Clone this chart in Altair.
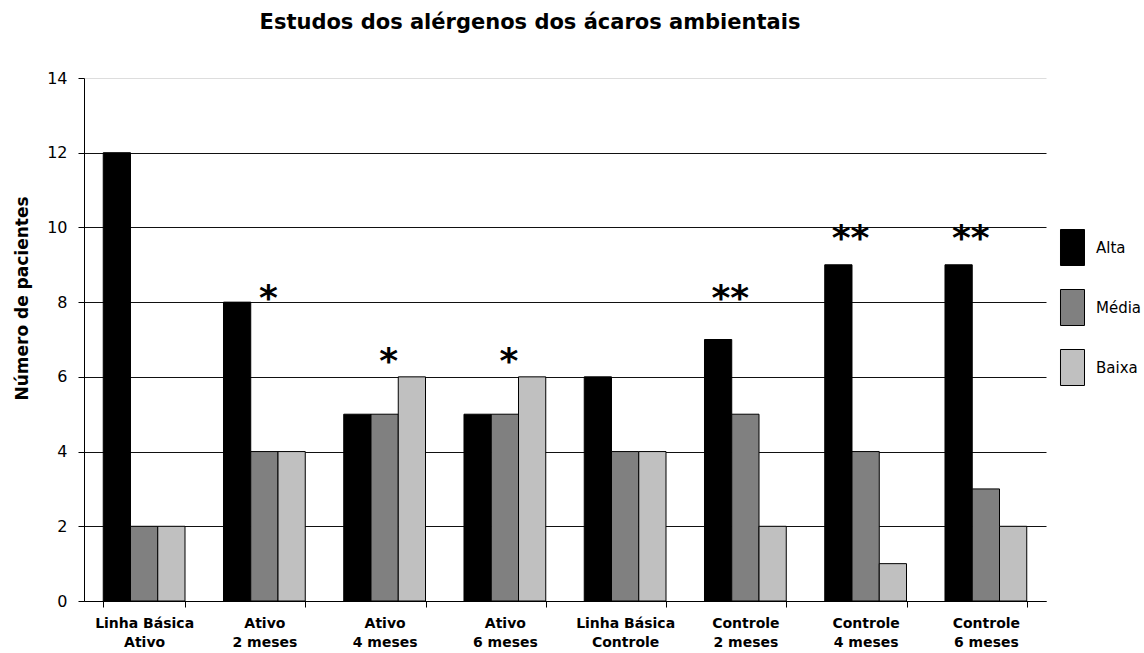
import altair as alt
import pandas as pd

# Study groups (two-line axis labels) and allergen sensitivity levels
categories = [
    "Linha Básica\nAtivo", "Ativo\n2 meses", "Ativo\n4 meses", "Ativo\n6 meses",
    "Linha Básica\nControle", "Controle\n2 meses", "Controle\n4 meses", "Controle\n6 meses",
]
levels = ["Alta", "Média", "Baixa"]

alta = [12, 8, 5, 5, 6, 7, 9, 9]
media = [2, 4, 5, 5, 4, 5, 4, 3]
baixa = [2, 4, 6, 6, 4, 2, 1, 2]

# Significance markers and the height (in patients) at which each is written
stars = ["", "*", "*", "*", "", "**", "**", "**"]
star_level = [None, 8.3, 6.6, 6.6, None, 8.3, 9.9, 9.9]

colors = ["#000000", "#808080", "#c0c0c0"]
y_ticks = [0, 2, 4, 6, 8, 10, 12, 14]

rows = []
for i, cat in enumerate(categories):
    for lvl, vals in zip(levels, [alta, media, baixa]):
        rows.append({"categoria": cat, "nivel": lvl, "pacientes": vals[i]})
df = pd.DataFrame(rows)

star_df = pd.DataFrame(
    [{"categoria": c, "marca": s, "pacientes": l}
     for c, s, l in zip(categories, stars, star_level) if s]
)

x_enc = alt.X(
    "categoria:N",
    sort=categories,
    scale=alt.Scale(paddingInner=0.32, paddingOuter=0.16),
    axis=alt.Axis(
        title=None,
        labelExpr="split(datum.label, '\\n')",
        labelAngle=0,
        labelFont="DejaVu Sans",
        labelFontWeight="bold",
        labelFontSize=14,
        labelLineHeight=19,
        labelColor="black",
        labelPadding=9,
        labelLimit=0,
        tickBand="extent",
        tickSize=6,
        tickColor="black",
        domainColor="black",
        grid=False,
    ),
)

y_enc = alt.Y(
    "pacientes:Q",
    scale=alt.Scale(domain=[0, 14], nice=False),
    axis=alt.Axis(
        values=y_ticks,
        title="Número de pacientes",
        titleFont="DejaVu Sans",
        titleFontSize=17,
        titleFontWeight="bold",
        titleColor="black",
        titleAngle=270,
        titleX=-62,
        titleY=220,
        titleAlign="center",
        titleBaseline="middle",
        labelFont="DejaVu Sans",
        labelFontSize=16,
        labelColor="black",
        labelPadding=11,
        tickSize=6,
        tickColor="black",
        domainColor="black",
        grid=True,
        gridColor={"condition": {"test": "datum.value === 14", "value": "#dddddd"},
                   "value": "#111111"},
        gridOpacity=1,
    ),
)

bars = alt.Chart(df).mark_bar(stroke="black", strokeWidth=1).encode(
    x=x_enc,
    xOffset=alt.XOffset("nivel:N", sort=levels,
                        scale=alt.Scale(paddingInner=0, paddingOuter=0)),
    y=y_enc,
    color=alt.Color(
        "nivel:N",
        sort=levels,
        scale=alt.Scale(domain=levels, range=colors),
        legend=alt.Legend(
            title=None,
            orient="none",
            legendX=970,
            legendY=151,
            padding=0,
            symbolType="M-0.667,-1H0.667V1H-0.667Z",
            symbolSize=1296,
            symbolStrokeColor="black",
            symbolStrokeWidth=1,
            symbolOpacity=1,
            rowPadding=19,
            labelFont="DejaVu Sans",
            labelFontSize=15,
            labelColor="black",
            labelOffset=5,
        ),
    ),
)


def star_layer(n, dx):
    return alt.Chart(star_df).transform_filter(
        f"length(datum.marca) == {n}"
    ).mark_text(
        font="DejaVu Sans", fontWeight="bold", fontSize=36, color="black",
        baseline="alphabetic", align="center", dx=dx, dy=19,
    ).encode(
        x=alt.X("categoria:N", sort=categories),
        y=alt.Y("pacientes:Q"),
        text="marca:N",
    )


chart = alt.layer(bars, star_layer(1, 4), star_layer(2, -15)).properties(
    width=962,
    height=523,
    title=alt.TitleParams(
        "Estudos dos alérgenos dos ácaros ambientais",
        font="DejaVu Sans", fontSize=21, fontWeight="bold", color="black",
        anchor="middle", dx=-35, offset=37,
    ),
    autosize=alt.AutoSizeParams(type="none"),
    padding={"left": 84, "top": 78, "right": 98, "bottom": 52},
).configure(background="white").configure_view(stroke=None)

chart.save("out.html", embed_options={"renderer": "svg", "actions": False})
